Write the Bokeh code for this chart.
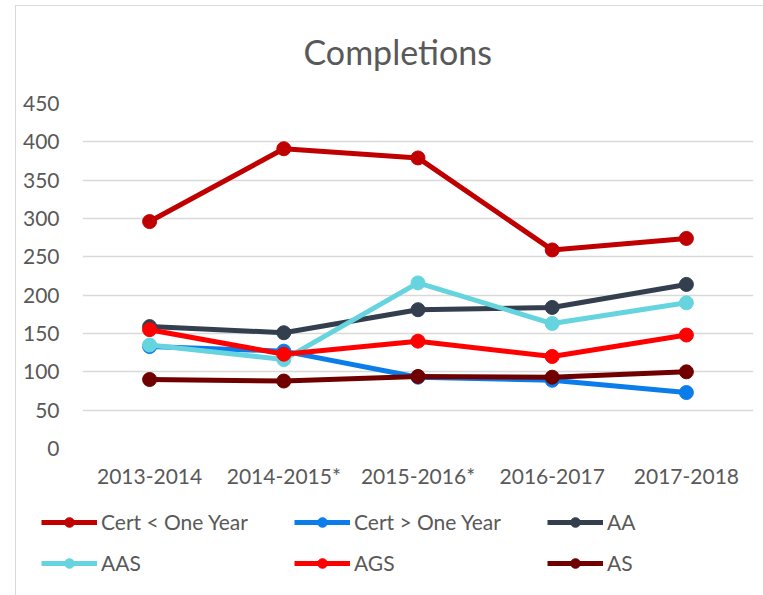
from bokeh.plotting import figure
from bokeh.models import Range1d, FixedTicker, Legend, LegendItem, Title
from bokeh.layouts import column, row
from bokeh.embed import file_html
from bokeh.resources import INLINE

years = ["2013-2014", "2014-2015*", "2015-2016*", "2016-2017", "2017-2018"]
y_ticks = [0, 50, 100, 150, 200, 250, 300, 350, 400, 450]

series_names = ["Cert < One Year", "Cert > One Year", "AA", "AAS", "AGS", "AS"]
cert_lt_one = [296, 391, 379, 259, 274]
cert_gt_one = [133, 127, 93, 89, 73]
aa = [159, 151, 181, 184, 214]
aas = [135, 116, 216, 163, 190]
ags = [155, 123, 140, 120, 148]
as_deg = [90, 88, 94, 93, 100]
series_values = [cert_lt_one, cert_gt_one, aa, aas, ags, as_deg]
series_colors = ["#C00000", "#0A7DEA", "#333F4F", "#66D4DE", "#FF0000", "#700000"]

FONT = "Lato"
TXT = "#595959"

p = figure(x_range=years, y_range=Range1d(0, 450), width=763, height=500,
           output_backend="svg", toolbar_location=None,
           min_border_left=82, min_border_right=10, min_border_top=103, min_border_bottom=52)
p.stylesheets = [":host::after { content: ''; position: absolute; left: 15px; top: 5px; "
                 "width: 800px; height: 700px; border: 1px solid #D9D9D9; pointer-events: none; }"]
p.title = None
t = Title(text="Completions", align="left", offset=221, text_font=FONT,
          text_font_size="34px", text_font_style="normal", text_color=TXT,
          vertical_align="top", standoff=60)
p.add_layout(t, "above")

p.outline_line_color = None
p.background_fill_color = "white"
p.border_fill_color = "white"
p.xgrid.grid_line_color = None
p.ygrid.grid_line_color = "#D9D9D9"
p.ygrid.grid_line_width = 1.3
p.yaxis.ticker = FixedTicker(ticks=y_ticks)

for ax in (p.xaxis, p.yaxis):
    ax.axis_line_color = None
    ax.major_tick_line_color = None
    ax.minor_tick_line_color = None
    ax.major_label_text_font = FONT
    ax.major_label_text_font_size = "21px"
    ax.major_label_text_color = TXT
p.xaxis.major_label_standoff = 8
p.yaxis.major_label_standoff = 17

for name, vals, col in zip(series_names, series_values, series_colors):
    p.line(years, vals, line_color=col, line_width=5)
    p.scatter(years, vals, size=14, fill_color=col, line_color=col)

# legend panel: same series drawn in a second figure whose y-range hides the lines
pl = figure(x_range=years, y_range=Range1d(0, 1), width=763, height=95,
            output_backend="svg", toolbar_location=None,
            x_axis_location=None, y_axis_location=None,
            min_border_left=0, min_border_right=0, min_border_top=0, min_border_bottom=0)
pl.grid.visible = False
pl.outline_line_color = None
pl.background_fill_color = None
pl.border_fill_color = None

items = []
for name, vals, col in zip(series_names, series_values, series_colors):
    r1 = pl.line(years, vals, line_color=col, line_width=5)
    r2 = pl.scatter(years, vals, size=14, fill_color=col, line_color=col)
    items.append(LegendItem(label=name, renderers=[r1, r2]))

leg = Legend(items=items, orientation="horizontal", ncols=3, location=(41, 20),
             glyph_width=56, glyph_height=24, label_height=24, label_width=177,
             label_standoff=4, spacing=16, padding=0, margin=0,
             border_line_color=None, background_fill_alpha=0,
             label_text_font=FONT, label_text_font_size="21px", label_text_color=TXT)
pl.add_layout(leg, "center")

layout = column(p, row(pl), spacing=0)
open("out.html", "w").write(file_html(layout, INLINE))
